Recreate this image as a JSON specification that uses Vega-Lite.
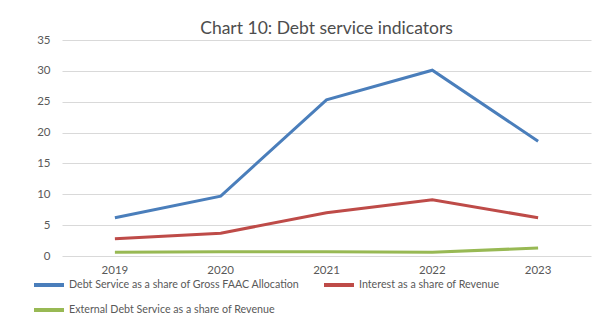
{
  "$schema": "https://vega.github.io/schema/vega-lite/v6.json",
  "width": 529,
  "height": 216,
  "padding": {"left": 32, "top": 19, "right": 19, "bottom": 5},
  "background": "white",
  "title": {"text": "Chart 10: Debt service indicators", "font": "Lato", "fontSize": 17.5, "fontWeight": "normal", "color": "#4d4d4d", "offset": -3, "anchor": "middle"},
  "data": {"values": [
    {"year": "2019", "series": "Debt Service as a share of Gross FAAC Allocation", "value": 6.2},
    {"year": "2020", "series": "Debt Service as a share of Gross FAAC Allocation", "value": 9.7},
    {"year": "2021", "series": "Debt Service as a share of Gross FAAC Allocation", "value": 25.3},
    {"year": "2022", "series": "Debt Service as a share of Gross FAAC Allocation", "value": 30.1},
    {"year": "2023", "series": "Debt Service as a share of Gross FAAC Allocation", "value": 18.6},
    {"year": "2019", "series": "Interest as a share of Revenue", "value": 2.8},
    {"year": "2020", "series": "Interest as a share of Revenue", "value": 3.7},
    {"year": "2021", "series": "Interest as a share of Revenue", "value": 7.0},
    {"year": "2022", "series": "Interest as a share of Revenue", "value": 9.1},
    {"year": "2023", "series": "Interest as a share of Revenue", "value": 6.2},
    {"year": "2019", "series": "External Debt Service as a share of Revenue", "value": 0.6},
    {"year": "2020", "series": "External Debt Service as a share of Revenue", "value": 0.7},
    {"year": "2021", "series": "External Debt Service as a share of Revenue", "value": 0.7},
    {"year": "2022", "series": "External Debt Service as a share of Revenue", "value": 0.6},
    {"year": "2023", "series": "External Debt Service as a share of Revenue", "value": 1.3}
  ]},
  "mark": {"type": "line", "strokeWidth": 3},
  "encoding": {
    "x": {"field": "year", "type": "ordinal", "scale": {"type": "band", "paddingInner": 0, "paddingOuter": 0},
      "axis": {"title": null, "labelAngle": 0, "ticks": false, "domain": false, "grid": false, "labelFont": "Lato", "labelFontSize": 11.5, "labelColor": "#595959", "labelPadding": 8}},
    "y": {"field": "value", "type": "quantitative", "scale": {"domain": [0, 35]},
      "axis": {"title": null, "values": [0, 5, 10, 15, 20, 25, 30, 35], "ticks": false, "domain": false, "gridColor": "#d9d9d9", "gridWidth": 1, "labelFont": "Lato", "labelFontSize": 11.5, "labelColor": "#595959", "labelPadding": 12}},
    "color": {"field": "series", "type": "nominal",
      "scale": {"domain": ["Debt Service as a share of Gross FAAC Allocation", "Interest as a share of Revenue", "External Debt Service as a share of Revenue"], "range": ["#4a7ebb", "#be4b48", "#98b954"]},
      "legend": {"title": null, "orient": "none", "legendX": -30, "legendY": 228, "direction": "horizontal", "columns": 2, "symbolType": "stroke", "symbolSize": 900, "symbolStrokeWidth": 4, "labelFont": "Lato", "labelFontSize": 10.7, "labelColor": "#595959", "labelOffset": 3, "columnPadding": 16, "rowPadding": -8, "labelLimit": 400}}
  },
  "config": {"view": {"stroke": null}}
}
